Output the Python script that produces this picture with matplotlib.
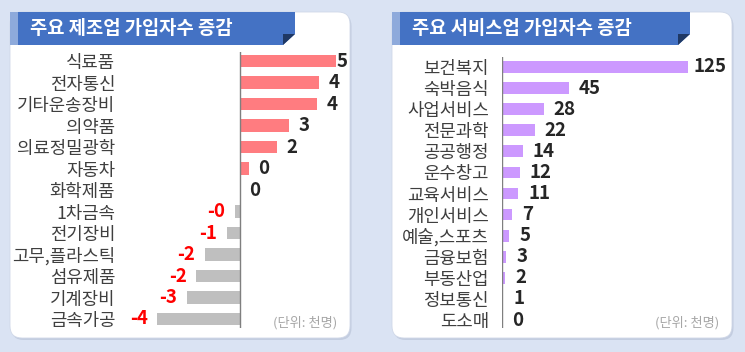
# plot.py
# 주요 제조업 / 서비스업 가입자수 증감 (가로 막대 두 패널)

import matplotlib.pyplot as plt
from matplotlib.patches import FancyBboxPatch, Polygon, Rectangle

plt.rcParams["font.family"] = ["Noto Sans CJK KR", "DejaVu Sans"]

# ---- data ----
mfg_labels = ["식료품", "전자통신", "기타운송장비", "의약품", "의료정밀광학", "자동차", "화학제품",
              "1차금속", "전기장비", "고무,플라스틱", "섬유제품", "기계장비", "금속가공"]
mfg_values = [5.05, 4.15, 4.05, 2.6, 1.95, 0.45, 0.0, -0.26, -0.7, -1.85, -2.3, -2.8, -4.35]

svc_labels = ["보건복지", "숙박음식", "사업서비스", "전문과학", "공공행정", "운수창고", "교육서비스",
              "개인서비스", "예술,스포츠", "금융보험", "부동산업", "정보통신", "도소매"]
svc_values = [125, 45, 28, 22, 14, 12, 11, 7, 5, 3, 2, 1, 0]

mfg_title = "주요 제조업 가입자수 증감"
svc_title = "주요 서비스업 가입자수 증감"
unit_note = "(단위: 천명)"

# ---- colours ----
BG = "#dae3f3"
BLUE = "#4472c4"
STRIPE = "#8eaadb"
FOLD = "#1f3864"
POS_PINK = "#ff7c80"
NEG_GREY = "#bfbfbf"
VIOLET = "#cc99ff"
TXT = "#3f3f3f"

W, H = 745, 352
fig = plt.figure(figsize=(W / 100, H / 100), dpi=100)
fig.patch.set_facecolor(BG)

# background axes in pixel units
bg = fig.add_axes([0, 0, 1, 1])
bg.set_xlim(0, W)
bg.set_ylim(H, 0)
bg.axis("off")


def panel(x0, x1, y0, y1, bx1, title):
    # shadow + white card
    bg.add_patch(FancyBboxPatch((x0 + 1.5, y0 + 2), x1 - x0, y1 - y0,
                                boxstyle="round,pad=0,rounding_size=12",
                                fc="#c3cde0", ec="none"))
    bg.add_patch(FancyBboxPatch((x0, y0), x1 - x0, y1 - y0,
                                boxstyle="round,pad=0,rounding_size=12",
                                fc="white", ec="#d0d8e8", lw=0.6))
    # title banner with folded corner
    by1 = y0 + 33
    bg.add_patch(Polygon([(x0, y0), (bx1, y0), (bx1, by1 - 11), (bx1 - 12, by1), (x0, by1)],
                         closed=True, fc=BLUE, ec="none"))
    bg.add_patch(Polygon([(bx1 - 12, by1 - 11), (bx1, by1 - 11), (bx1 - 12, by1)],
                         closed=True, fc=FOLD, ec="none"))
    bg.add_patch(Rectangle((x0, y0), 8, by1 - y0, fc=STRIPE, ec="none"))
    bg.text(x0 + 20, y0 + 17, title, color="white", fontsize=13.5, fontweight="bold",
            ha="left", va="center")
    bg.text(x1 - 13, y1 - 15, unit_note, color="#a6a6a6", fontsize=9.5,
            ha="right", va="center")


panel(10, 350, 12, 338, 295, mfg_title)
panel(392, 732, 12, 338, 690, svc_title)


def chart_axes(left, right, top, bottom, first_row, last_row, n):
    ax = fig.add_axes([left / W, 1 - bottom / H, (right - left) / W, (bottom - top) / H])
    ax.patch.set_alpha(0)
    step = (last_row - first_row) / (n - 1)
    ax.set_ylim(n - 1 + (bottom - last_row) / step, -(first_row - top) / step)
    for s in ax.spines.values():
        s.set_visible(False)
    ax.set_xticks([])
    return ax


# ---- manufacturing ----
ax1 = chart_axes(150, 340, 52, 328, 61, 319, len(mfg_values))
px_per_unit = 19.0
ax1.set_xlim(-(240 - 150) / px_per_unit, (340 - 240) / px_per_unit)
ypos = range(len(mfg_values))
colors = [POS_PINK if v >= 0 else NEG_GREY for v in mfg_values]
ax1.barh(ypos, mfg_values, height=0.56, color=colors)
ax1.axvline(0, color="#7f7f7f", lw=1)
ax1.set_yticks(list(ypos))
ax1.set_yticklabels(mfg_labels, fontsize=12.8, color=TXT)
ax1.tick_params(axis="y", length=0, pad=25)
gap = 9.5 / px_per_unit
xmax = ax1.get_xlim()[1]
for i, v in enumerate(mfg_values):
    lab = f"{v:.0f}"
    if v >= 0:
        ax1.text(min(v + gap, xmax - 0.2), i, lab, ha="left", va="center",
                 fontsize=13.5, fontweight="bold", color="#262626")
    else:
        ax1.text(v - gap, i, lab, ha="right", va="center",
                 fontsize=13.5, fontweight="bold", color="#ff0000")

# ---- services ----
ax2 = chart_axes(502, 690, 57, 328, 67, 320, len(svc_values))
ax2.set_xlim(0, 126.2)
ypos = range(len(svc_values))
ax2.barh(ypos, svc_values, height=0.56, color=VIOLET)
ax2.axvline(0, color="#7f7f7f", lw=1)
ax2.set_yticks(list(ypos))
ax2.set_yticklabels(svc_labels, fontsize=12.8, color=TXT)
ax2.tick_params(axis="y", length=0, pad=9.5)
gap2 = 10 / 1.49
xmax2 = max(svc_values) + 5 / 1.49
for i, v in enumerate(svc_values):
    ax2.text(min(v + gap2, xmax2), i, f"{v}", ha="left", va="center",
             fontsize=13.5, fontweight="bold", color="#262626")

fig.savefig("out.png", dpi=100, facecolor=BG)
